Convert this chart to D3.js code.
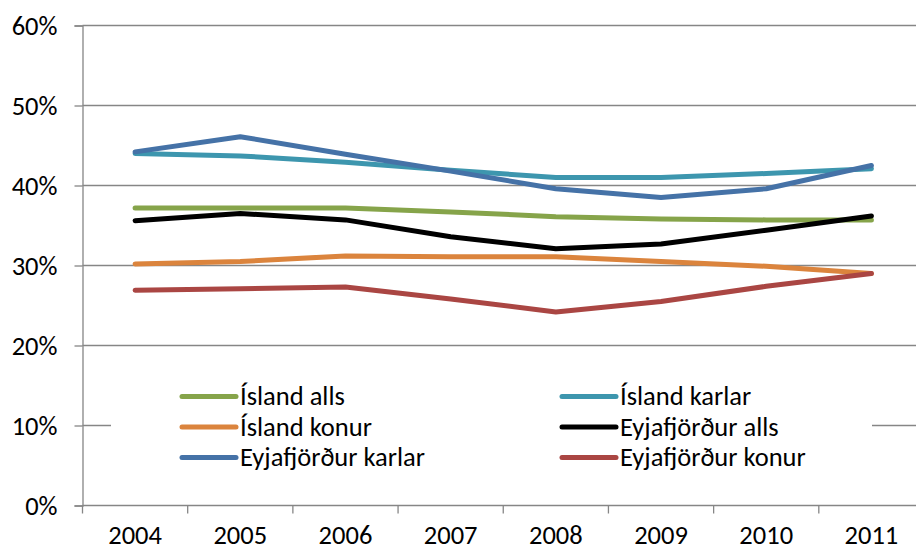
<!DOCTYPE html>
<html><head><meta charset="utf-8">
<script src="https://cdn.jsdelivr.net/npm/d3@7"></script>
<style>
html,body{margin:0;padding:0;background:#fff;overflow:hidden}
text{font-family:Carlito,Calibri,"Open Sans",sans-serif;fill:#000}
</style></head><body>
<svg id="c" width="916" height="549"></svg>
<script>
const years = ["2004","2005","2006","2007","2008","2009","2010","2011"];
const seriesNames = ["Ísland alls","Ísland karlar","Ísland konur","Eyjafjörður alls","Eyjafjörður karlar","Eyjafjörður konur"];
const seriesColors = ["#86A44A","#3D96AE","#DB843D","#000000","#4572A7","#AA4643"];
const islandAlls = [37.2,37.2,37.2,36.7,36.1,35.8,35.7,35.7];
const islandKarlar = [44.0,43.7,42.9,41.9,41.0,41.0,41.5,42.1];
const islandKonur = [30.2,30.5,31.2,31.1,31.1,30.5,29.9,29.0];
const eyjaAlls = [35.6,36.5,35.7,33.6,32.1,32.7,34.4,36.2];
const eyjaKarlar = [44.2,46.1,43.9,41.8,39.6,38.5,39.6,42.5];
const eyjaKonur = [26.9,27.1,27.3,25.8,24.2,25.5,27.4,29.0];
const yTicks = [0,10,20,30,40,50,60];
const seriesValues = [islandAlls,islandKarlar,islandKonur,eyjaAlls,eyjaKarlar,eyjaKonur];

const svg = d3.select("#c");
const pLeft = 82.5, pRight = 924, pTop = 25.5, pBottom = 505.5;
const x = d3.scaleBand().domain(years).range([pLeft,pRight]).padding(0);
const y = d3.scaleLinear().domain([0,60]).range([pBottom,pTop]);
const gridColor = "#868686";
const fs = "26.5px";

// gridlines
svg.append("g").selectAll("line").data(yTicks.filter(d=>d>0)).join("line")
  .attr("x1",pLeft).attr("x2",pRight).attr("y1",d=>y(d)).attr("y2",d=>y(d))
  .attr("stroke",gridColor).attr("stroke-width",1.3);

// y axis
const yAxis = svg.append("g").attr("transform",`translate(${pLeft},0)`)
  .call(d3.axisLeft(y).tickValues(yTicks).tickFormat(d=>d+"%").tickSize(8).tickPadding(17));
yAxis.select(".domain").attr("stroke",gridColor).attr("stroke-width",1.3);
yAxis.selectAll(".tick text").style("font-size",fs).attr("dy","0.34em");
yAxis.selectAll(".tick line").attr("stroke",gridColor).attr("stroke-width",1.3);

// x axis
const xAxis = svg.append("g").attr("transform",`translate(0,${pBottom})`)
  .call(d3.axisBottom(x).tickSize(0).tickPadding(38.5));
xAxis.select(".domain").remove();
xAxis.selectAll(".tick text").style("font-size",fs).attr("dy","0");
svg.append("line").attr("x1",pLeft).attr("x2",pRight).attr("y1",pBottom).attr("y2",pBottom)
  .attr("stroke",gridColor).attr("stroke-width",1.3);
svg.append("g").selectAll("line").data(years.concat(["end"])).join("line")
  .attr("x1",(d,i)=>pLeft+i*x.bandwidth()).attr("x2",(d,i)=>pLeft+i*x.bandwidth())
  .attr("y1",pBottom).attr("y2",pBottom+8).attr("stroke",gridColor).attr("stroke-width",1.3);

// lines
const line = d3.line().x((d,i)=>x(years[i])+x.bandwidth()/2).y(d=>y(d));
svg.append("g").selectAll("path").data(seriesValues).join("path")
  .attr("d",line).attr("fill","none")
  .attr("stroke",(d,i)=>seriesColors[i]).attr("stroke-width",5)
  .attr("stroke-linecap","round").attr("stroke-linejoin","round");

// legend
const lg = svg.append("g");
lg.append("rect").attr("x",111).attr("y",370).attr("width",761).attr("height",108).attr("fill","#fff");
const colX = [182, 562], rowY = [396.5, 427, 457.5];
const items = lg.selectAll("g.item").data(seriesNames).join("g").attr("class","item")
  .attr("transform",(d,i)=>`translate(${colX[i%2]},${rowY[Math.floor(i/2)]})`);
items.append("line").attr("x1",0).attr("x2",54).attr("y1",0).attr("y2",0)
  .attr("stroke",(d,i)=>seriesColors[i]).attr("stroke-width",5).attr("stroke-linecap","round");
items.append("text").attr("x",58).attr("y",0).attr("dy","0.33em").style("font-size",fs).text(d=>d);
</script>
</body></html>
